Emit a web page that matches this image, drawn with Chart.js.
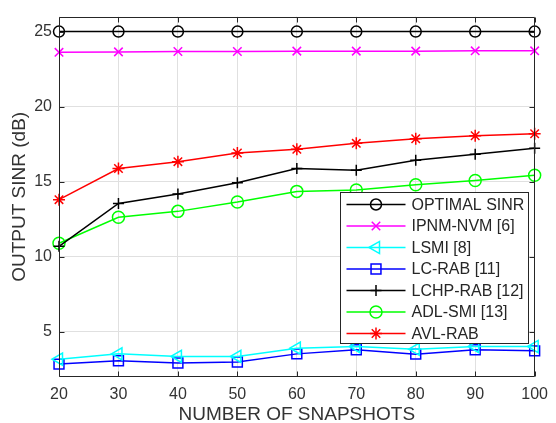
<!DOCTYPE html>
<html><head><meta charset="utf-8">
<script src="https://cdn.jsdelivr.net/npm/chart.js@4.4.1/dist/chart.umd.min.js"></script>
<style>html,body{margin:0;padding:0;background:#fff}#wrap{width:556px;height:423px}</style>
</head><body><div id="wrap"><canvas id="c" width="556" height="423"></canvas></div>
<script>
const snapshots = [20, 30, 40, 50, 60, 70, 80, 90, 100];
const optimalSinr = [25, 25, 25, 25, 25, 25, 25, 25, 25];
const ipnmNvm = [23.62, 23.65, 23.68, 23.68, 23.70, 23.70, 23.70, 23.72, 23.72];
const lsmi = [3.19, 3.54, 3.37, 3.37, 3.92, 4.03, 3.85, 4.03, 4.03];
const lcRab = [2.86, 3.08, 2.93, 3.00, 3.54, 3.81, 3.52, 3.81, 3.74];
const lchpRab = [10.70, 13.56, 14.18, 14.93, 15.88, 15.77, 16.44, 16.83, 17.23];
const adlSmi = [10.91, 12.64, 13.03, 13.65, 14.36, 14.45, 14.80, 15.09, 15.44];
const avlRab = [13.81, 15.88, 16.34, 16.92, 17.16, 17.56, 17.87, 18.07, 18.20];
const yTicks = [5, 10, 15, 20, 25];
const xTicks = [20, 30, 40, 50, 60, 70, 80, 90, 100];

const FONT = '"Liberation Sans", Arial, Helvetica, sans-serif';
Chart.defaults.font.family = FONT;

function pts(vals){ return snapshots.map((s,i)=>({x:s, y:vals[i]})); }

const series = [
  {label:'OPTIMAL SINR', data:optimalSinr, color:'#000000', style:'circle', r:5.5, rot:0},
  {label:'IPNM-NVM [6]', data:ipnmNvm, color:'#ff00ff', style:'crossRot', r:6, rot:0},
  {label:'LSMI [8]', data:lsmi, color:'#00ffff', style:'triangle', r:7, rot:-90},
  {label:'LC-RAB [11]', data:lcRab, color:'#0000ff', style:'rect', r:7, rot:0},
  {label:'LCHP-RAB [12]', data:lchpRab, color:'#000000', style:'cross', r:5.5, rot:0},
  {label:'ADL-SMI [13]', data:adlSmi, color:'#00ff00', style:'circle', r:6, rot:0},
  {label:'AVL-RAB', data:avlRab, color:'#ff0000', style:'star', r:6, rot:0}
];

function marker(ctx, style, x, y, r, rot){
  ctx.beginPath();
  if (style === 'circle') { ctx.arc(x, y, r, 0, Math.PI*2); }
  else if (style === 'rect') { const s = r*Math.SQRT1_2; ctx.rect(x-s, y-s, 2*s, 2*s); }
  else if (style === 'triangle') {
    let rad = rot*Math.PI/180;
    ctx.moveTo(x + Math.sin(rad)*r, y - Math.cos(rad)*r);
    rad += 2*Math.PI/3; ctx.lineTo(x + Math.sin(rad)*r, y - Math.cos(rad)*r);
    rad += 2*Math.PI/3; ctx.lineTo(x + Math.sin(rad)*r, y - Math.cos(rad)*r);
    ctx.closePath();
  }
  else if (style === 'cross') { ctx.moveTo(x, y-r); ctx.lineTo(x, y+r); ctx.moveTo(x-r, y); ctx.lineTo(x+r, y); }
  else if (style === 'crossRot') { const d = r*Math.SQRT1_2; ctx.moveTo(x-d, y-d); ctx.lineTo(x+d, y+d); ctx.moveTo(x+d, y-d); ctx.lineTo(x-d, y+d); }
  else if (style === 'star') {
    ctx.moveTo(x, y-r); ctx.lineTo(x, y+r); ctx.moveTo(x-r, y); ctx.lineTo(x+r, y);
    const d = r*Math.SQRT1_2; ctx.moveTo(x-d, y-d); ctx.lineTo(x+d, y+d); ctx.moveTo(x+d, y-d); ctx.lineTo(x-d, y+d);
  }
  ctx.stroke();
}

const framePlugin = {
  id: 'frame',
  afterDatasetsDraw(chart){
    const {ctx, chartArea:a, scales:{x, y}} = chart;
    ctx.save();
    ctx.strokeStyle = '#262626'; ctx.lineWidth = 1;
    const L = Math.round(a.left)+0.5, R = Math.round(a.right)-0.5, T = Math.round(a.top)+0.5, B = Math.round(a.bottom)-0.5;
    ctx.beginPath();
    ctx.rect(L, T, R-L, B-T);
    xTicks.forEach(v => { const px = Math.round(x.getPixelForValue(v))+0.5; ctx.moveTo(px, B); ctx.lineTo(px, B-5); ctx.moveTo(px, T); ctx.lineTo(px, T+5); });
    yTicks.forEach(v => { const py = Math.round(y.getPixelForValue(v))+0.5; ctx.moveTo(L, py); ctx.lineTo(L+5, py); ctx.moveTo(R, py); ctx.lineTo(R-5, py); });
    ctx.stroke();

    // legend
    const bx = Math.round(a.right) - 194.5, by = Math.round(a.top) + 175.5, bw = 188, bh = 151;
    ctx.fillStyle = '#ffffff';
    ctx.fillRect(bx, by, bw, bh);
    ctx.strokeStyle = '#262626';
    ctx.strokeRect(bx, by, bw, bh);
    ctx.font = '16px ' + FONT;
    ctx.textBaseline = 'middle';
    ctx.textAlign = 'left';
    series.forEach((s, i) => {
      const ry = by + 12 + i*21.5;
      ctx.strokeStyle = s.color; ctx.lineWidth = 1.5;
      ctx.beginPath(); ctx.moveTo(bx+6, ry); ctx.lineTo(bx+65, ry); ctx.stroke();
      marker(ctx, s.style, bx+35.5, ry, s.r, s.rot);
      ctx.fillStyle = '#262626';
      ctx.fillText(s.label, bx+71, ry+1);
    });
    ctx.restore();
  }
};

new Chart(document.getElementById('c'), {
  type: 'line',
  data: {
    datasets: series.map(s => ({
      label: s.label,
      data: pts(s.data),
      borderColor: s.color,
      backgroundColor: s.color,
      borderWidth: 1.5,
      pointStyle: s.style,
      pointRadius: s.r,
      pointRotation: s.rot,
      pointBorderColor: s.color,
      pointBackgroundColor: 'rgba(0,0,0,0)',
      pointBorderWidth: 1.5,
      fill: false,
      tension: 0,
      clip: false
    }))
  },
  options: {
    responsive: false,
    devicePixelRatio: 1,
    animation: false,
    layout: { padding: { top: 13, right: 16, left: 0, bottom: 0 } },
    plugins: { legend: { display: false }, tooltip: { enabled: false } },
    scales: {
      x: {
        type: 'linear', min: 20, max: 100,
        ticks: { stepSize: 10, color: '#333333', font: { size: 16 }, padding: 8 },
        afterBuildTicks: s => { s.ticks = xTicks.map(v => ({value: v})); },
        grid: { color: '#e0e0e0', drawTicks: false },
        border: { display: false },
        title: { display: true, text: 'NUMBER OF SNAPSHOTS', color: '#333333', font: { size: 19, lineHeight: 1 }, padding: { top: 0, bottom: -1 } },
        afterFit: s => { s.height = 46; }
      },
      y: {
        type: 'linear', min: 2, max: 26,
        afterBuildTicks: s => { s.ticks = yTicks.map(v => ({value: v})); },
        ticks: { color: '#333333', font: { size: 16 }, padding: 7 },
        grid: { color: '#e0e0e0', drawTicks: false },
        border: { display: false },
        title: { display: true, text: 'OUTPUT SINR (dB)', color: '#333333', font: { size: 19, lineHeight: 1 }, padding: { top: 10, bottom: 0 } },
        afterFit: s => { s.width = 59; }
      }
    }
  },
  plugins: [framePlugin]
});
</script>
</body></html>
